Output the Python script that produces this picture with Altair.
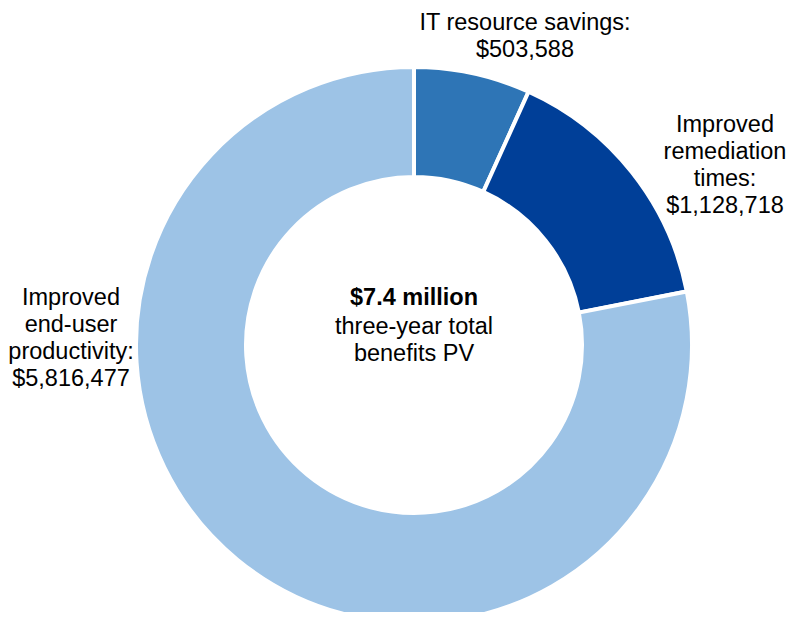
import altair as alt
import pandas as pd

categories = ["IT resource savings", "Improved remediation times", "Improved end-user productivity"]
values = [503588, 1128718, 5816477]
labels = [
    "IT resource savings:\n$503,588",
    "Improved\nremediation\ntimes:\n$1,128,718",
    "Improved\nend-user\nproductivity:\n$5,816,477",
]
colors = ["#2E75B6", "#003F98", "#9DC3E6"]

df = pd.DataFrame({"category": categories, "value": values, "label": labels,
                   "order": [0, 1, 2]})

FONT = "Liberation Sans"
FS = 23.5
LH = 27
CX, CY = 406, 337

base = alt.Chart(df)

arcs = base.mark_arc(outerRadius=278, innerRadius=168, stroke="white", strokeWidth=4).encode(
    theta=alt.Theta("value:Q", stack=True),
    order=alt.Order("order:Q"),
    color=alt.Color("category:N", scale=alt.Scale(domain=categories, range=colors), legend=None),
    x=alt.value(CX),
    y=alt.value(CY),
)

label_pos = {
    categories[0]: (517, 15),
    categories[1]: (717, 117),
    categories[2]: (63, 290),
}

layers = [arcs]
for cat, (lx, ly) in label_pos.items():
    layers.append(
        base.transform_filter(alt.datum.category == cat)
        .mark_text(font=FONT, fontSize=FS, lineHeight=LH, lineBreak="\n",
                   align="center", baseline="middle", color="black")
        .encode(text="label:N", x=alt.value(lx), y=alt.value(ly))
    )

center_title = ["$7.4 million"]
center_sub = "three-year total\nbenefits PV"

layers.append(
    alt.Chart(pd.DataFrame({"t": center_title})).mark_text(
        font=FONT, fontSize=FS, fontWeight="bold", align="center", baseline="middle", color="black"
    ).encode(text="t:N", x=alt.value(CX), y=alt.value(290))
)
layers.append(
    alt.Chart(pd.DataFrame({"t": [center_sub]})).mark_text(
        font=FONT, fontSize=FS, lineHeight=LH, lineBreak="\n", align="center", baseline="middle", color="black"
    ).encode(text="t:N", x=alt.value(CX), y=alt.value(319))
)

chart = alt.layer(*layers).properties(
    width=780, height=604,
    autosize=alt.AutoSizeParams(type="none"),
    padding=0,
).configure_view(stroke=None)

chart.save("out.html", embed_options={"renderer": "svg", "actions": False})
